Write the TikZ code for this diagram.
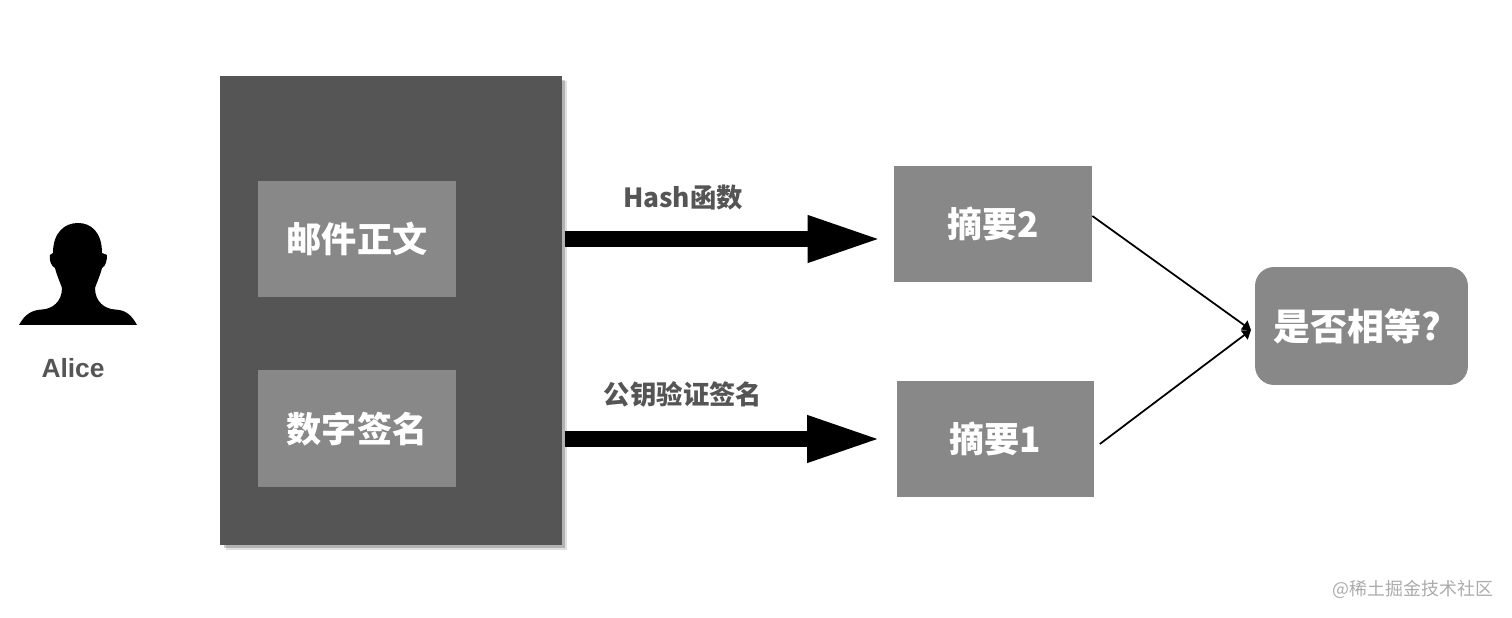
\documentclass[tikz,border=0pt]{standalone}
\usepackage{fontspec}
\setmainfont{Noto Sans CJK SC}
\newfontfamily\latinfont{Liberation Sans}
\usetikzlibrary{arrows.meta,positioning,shadows}
\definecolor{bodygray}{HTML}{555555}
\definecolor{boxgray}{HTML}{888888}
\definecolor{markgray}{HTML}{ABABAB}

\begin{document}
\begin{tikzpicture}[
    x=0.02cm, y=-0.02cm,
    node distance=1.45cm,
    box/.style={fill=boxgray, text=white, inner sep=0pt, minimum width=3.96cm, minimum height=2.33cm, font=\fontsize{20}{24}\selectfont\bfseries},
    caption/.style={text=bodygray, inner sep=0pt, font=\fontsize{15}{18}\selectfont\bfseries},
    bigarrow/.style={-{Triangle[length=1.48cm, width=0.86cm]}, line width=0.31cm, black},
    arrow/.style={-{Triangle[length=1.7mm, width=2.2mm]}, line width=1pt, black},
]
\useasboundingbox (0,0) rectangle (1512,618);

% Sender silhouette
\fill[black] (19,325) .. controls (25,314) and (32,310) .. (42,309.5)
    .. controls (52,309) and (62,302) .. (62,288)
    .. controls (60,282) and (57,276) .. (55,268)
    .. controls (51,266) and (49,260) .. (50,255)
    -- (53,253) .. controls (53,232) and (65,223) .. (78,223)
    .. controls (91,223) and (102,232) .. (102,253)
    -- (107,255) .. controls (107,260) and (106,266) .. (102,268)
    .. controls (100,276) and (97,282) .. (95,288)
    .. controls (95,302) and (105,309) .. (115,309.5)
    .. controls (125,310) and (131,314) .. (137,325) -- cycle;
\node[caption, font=\latinfont\fontsize{15}{18}\selectfont\bfseries] (alice) at (73,368) {Alice};

\node[fill=bodygray, minimum width=6.84cm, minimum height=9.38cm, inner sep=0pt,
    drop shadow={shadow xshift=0.11cm, shadow yshift=-0.1cm, fill=black, opacity=0.12},
    drop shadow={shadow xshift=0.07cm, shadow yshift=-0.07cm, fill=black, opacity=0.2}] (body) at (391,310.5) {};
\node[box] (mail) at (357,239) {邮件正文};
\node[box, below=of mail] (sign) {数字签名};

\node[box] (digesttwo) at (993,224) {摘要2};
\node[box] (digestone) at (995.5,439) {摘要1};
\node[fill=boxgray, text=white, rounded corners=0.38cm, minimum width=4.26cm, minimum height=2.36cm, inner sep=0pt, font=\fontsize{21}{24}\selectfont\bfseries] (equal) at (1361.5,326) {是否相等?\kern0.16cm};

\node[caption] (hash) at (683,198) {Hash函数};
\node[caption] (verify) at (683,394) {公钥验证签名};

\draw[bigarrow, shorten <=0.06cm, shorten >=0.24cm] (body.east |- mail.east) -- (digesttwo.west |- mail.east);
\draw[bigarrow, shorten <=0.06cm, shorten >=0.3cm] (body.east |- digestone.west) -- (digestone.west);

% The two digests meet just before the comparison box
\coordinate (meet) at (1251,330);
\draw[arrow] ([yshift=0.16cm]digesttwo.east) -- (meet);
\draw[arrow] ([xshift=0.1cm,yshift=-0.1cm]digestone.east) -- (meet);

\node[text=markgray, inner sep=0pt, font=\fontsize{10.2}{12}\selectfont] (mark) at (1413,589) {@稀土掘金技术社区};
\end{tikzpicture}
\end{document}
